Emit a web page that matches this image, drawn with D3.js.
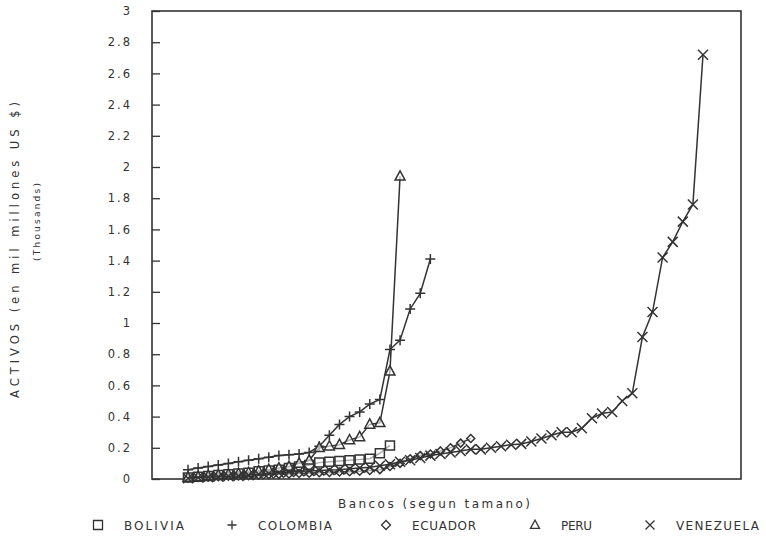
<!DOCTYPE html>
<html>
<head>
<meta charset="utf-8">
<script src="https://cdn.jsdelivr.net/npm/d3@7"></script>
<style>
  body { margin: 0; background: #fff; }
  svg { display: block; }
  text { font-family: "DejaVu Sans", sans-serif; fill: #333; }
</style>
</head>
<body>
<svg></svg>
<script>
// assets per bank, ordered by size (thousands of millions US $)
var bolivia = [0.01, 0.015, 0.02, 0.025, 0.03, 0.035, 0.04, 0.05, 0.055, 0.06, 0.07, 0.08, 0.09,
  0.105, 0.11, 0.115, 0.12, 0.125, 0.13, 0.165, 0.215];
var colombia = [0.06, 0.07, 0.08, 0.09, 0.10, 0.11, 0.12, 0.13, 0.14, 0.15, 0.155, 0.16, 0.17,
  0.21, 0.28, 0.35, 0.40, 0.43, 0.48, 0.51, 0.83, 0.89, 1.09, 1.19, 1.41];
var ecuador = [0.005, 0.01, 0.012, 0.015, 0.018, 0.02, 0.022, 0.025, 0.028, 0.03, 0.032, 0.035, 0.037,
  0.04, 0.042, 0.045, 0.047, 0.05, 0.055, 0.06, 0.08, 0.10, 0.13, 0.15, 0.16, 0.18, 0.20, 0.23, 0.26];
var peru = [0.01, 0.015, 0.02, 0.025, 0.03, 0.035, 0.04, 0.05, 0.06, 0.07, 0.08, 0.10, 0.12,
  0.20, 0.21, 0.22, 0.25, 0.27, 0.35, 0.36, 0.69, 1.94];
var venezuela = [0.005, 0.01, 0.012, 0.015, 0.018, 0.02, 0.025, 0.03, 0.035, 0.04, 0.045, 0.05, 0.052,
  0.055, 0.058, 0.06, 0.065, 0.07, 0.075, 0.085, 0.095, 0.11, 0.12, 0.135, 0.15, 0.16, 0.17, 0.18,
  0.19, 0.19, 0.20, 0.21, 0.22, 0.225, 0.24, 0.26, 0.28, 0.30, 0.30, 0.325, 0.39, 0.42, 0.43, 0.50,
  0.55, 0.91, 1.07, 1.42, 1.52, 1.65, 1.76, 2.72];

var countries = ["BOLIVIA", "COLOMBIA", "ECUADOR", "PERU", "VENEZUELA"];
var symbols = ["square", "plus", "diamond", "triangle", "x"];
var yTicks = [0, 0.2, 0.4, 0.6, 0.8, 1, 1.2, 1.4, 1.6, 1.8, 2, 2.2, 2.4, 2.6, 2.8, 3];

var series = [bolivia, colombia, ecuador, peru, venezuela].map(function(v, i) {
  return { name: countries[i], sym: symbols[i], values: v };
});

var svgWidth = 766, svgHeight = 542;
var plotLeft = 152, plotTop = 11, plotWidth = 589, plotHeight = 468;
var ink = "#333";

var svg = d3.select("svg")
    .attr("width", svgWidth)
    .attr("height", svgHeight);

var x = d3.scaleLinear().domain([1, 52]).range([36, 551]);
var y = d3.scaleLinear().domain([0, 3]).range([plotHeight, 0]);

var g = svg.append("g").attr("transform", "translate(" + plotLeft + "," + plotTop + ")");

// frame
g.append("rect")
    .attr("width", plotWidth)
    .attr("height", plotHeight)
    .attr("fill", "none")
    .attr("stroke", ink)
    .attr("stroke-width", 1.6);

// y axis, ticks pointing inward
var yAxis = d3.axisLeft(y)
    .tickValues(yTicks)
    .tickSizeInner(-8)
    .tickSizeOuter(0)
    .tickPadding(20)
    .tickFormat(d3.format("~g"));

var ya = g.append("g").call(yAxis);
ya.select(".domain").remove();
ya.selectAll("line").attr("stroke", ink).attr("stroke-width", 1.3);
ya.selectAll("text")
    .attr("font-size", 11.5)
    .attr("letter-spacing", 2)
    .attr("fill", ink)
    .style("font-family", "'DejaVu Sans', sans-serif");

// marker shapes drawn as paths around (0,0)
function markerPath(sym, r) {
  if (sym === "square") return "M" + -r + "," + -r + "H" + r + "V" + r + "H" + -r + "Z";
  if (sym === "plus") return "M" + -r + ",0H" + r + "M0," + -r + "V" + r;
  if (sym === "diamond") return "M0," + -r + "L" + r + ",0L0," + r + "L" + -r + ",0Z";
  if (sym === "triangle") return "M0," + -r * 1.1 + "L" + r + "," + r * 0.75 + "L" + -r + "," + r * 0.75 + "Z";
  return "M" + -r + "," + -r + "L" + r + "," + r + "M" + r + "," + -r + "L" + -r + "," + r;
}
var markerSize = { square: 4.5, plus: 5, diamond: 4, triangle: 5, x: 5 };

var line = d3.line()
    .x(function(d, i) { return x(i + 1); })
    .y(function(d) { return y(d); });

series.forEach(function(s) {
  g.append("path")
      .datum(s.values)
      .attr("fill", "none")
      .attr("stroke", ink)
      .attr("stroke-width", 1.5)
      .attr("d", line);

  g.selectAll(null)
      .data(s.values)
      .enter()
      .append("path")
      .attr("transform", function(d, i) { return "translate(" + x(i + 1) + "," + y(d) + ")"; })
      .attr("d", markerPath(s.sym, markerSize[s.sym]))
      .attr("fill", s.sym === "plus" || s.sym === "x" ? "none" : "#fff")
      .attr("fill-opacity", 0.6)
      .attr("stroke", ink)
      .attr("stroke-width", 1.5);
});

// axis titles
svg.append("text")
    .attr("x", 338)
    .attr("y", 508)
    .attr("font-size", 12)
    .attr("textLength", 192)
    .attr("lengthAdjust", "spacing")
    .text("Bancos (segun tamano)");

svg.append("text")
    .attr("transform", "translate(19,250) rotate(-90)")
    .attr("text-anchor", "middle")
    .attr("font-size", 11.5)
    .attr("textLength", 296)
    .attr("lengthAdjust", "spacing")
    .text("ACTIVOS (en mil millones US $)");

svg.append("text")
    .attr("transform", "translate(40,222) rotate(-90)")
    .attr("text-anchor", "middle")
    .attr("font-size", 9)
    .attr("textLength", 78)
    .attr("lengthAdjust", "spacing")
    .text("(Thousands)");

// legend
var legendX = [98, 232, 386, 535, 650];
var legendW = [60, 74, 64, 31, 83];
var legend = svg.selectAll(".legend")
    .data(series)
    .enter()
    .append("g")
    .attr("class", "legend")
    .attr("transform", function(d, i) { return "translate(" + legendX[i] + ",525)"; });

legend.append("path")
    .attr("d", function(d) { return markerPath(d.sym, 4.5); })
    .attr("fill", "none")
    .attr("stroke", ink)
    .attr("stroke-width", 1.3);

legend.append("text")
    .attr("x", 26)
    .attr("y", 5)
    .attr("font-size", 12)
    .attr("textLength", function(d, i) { return legendW[i]; })
    .attr("lengthAdjust", "spacing")
    .text(function(d) { return d.name; });
</script>
</body>
</html>
